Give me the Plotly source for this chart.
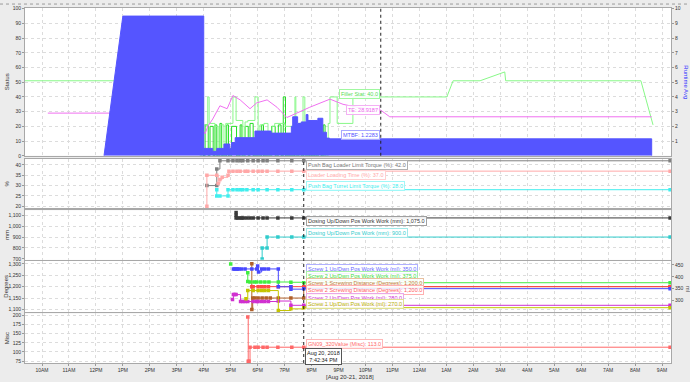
import plotly.graph_objects as go

# ---------------- data ----------------
# time strings: "<day> HH:MM" (day 20 or 21, August 2018)
x_range = ["20 09:22:10", "21 09:20"]
cursor_top = "20 22:34"
cursor_low = "20 19:42:34"

# --- panel 1 (Status / Runtime Avg) ---
mtbf_ramp_t = ["20 12:18", "20 13:00", "20 16:00", "20 16:00"]
mtbf_ramp_v = [0, 9.5, 9.5, 0]

mtbf_step_t = ["20 16:00", "20 16:20", "20 16:29", "20 16:45", "20 16:58", "20 17:02", "20 17:10",
               "20 17:54", "20 18:30", "20 19:15", "20 19:18", "20 19:29", "20 19:37", "20 19:48",
               "20 19:52", "20 20:14", "20 20:25", "20 20:33", "20 20:40", "21 08:37"]
mtbf_step_v = [0.5, 0.3, 0.5, 0.8, 0.5, 0.9, 1.23, 1.68, 1.54, 2.0, 2.65, 2.2, 2.3, 2.8,
               2.4, 2.55, 1.6, 1.2, 1.15, 0]

pulse_t = ["20 15:54", "20 15:59", "20 16:03", "20 16:10", "20 16:14", "20 16:21", "20 16:25",
           "20 16:29", "20 16:36", "20 16:40", "20 16:51", "20 16:55", "20 17:02", "20 17:13",
           "20 17:21", "20 17:25", "20 17:32", "20 17:39", "20 17:43", "20 17:50", "20 18:09",
           "20 18:13", "20 18:31", "20 18:39", "20 18:46", "20 18:52", "20 18:57", "20 19:02",
           "20 19:23", "20 19:27", "20 19:31", "20 19:37", "20 19:42", "20 19:47", "20 19:57",
           "20 20:00", "20 20:08", "20 20:11", "20 20:15", "20 20:21", "20 20:26", "20 20:30"]
pulse_v = [40, 0, 21, 0, 20, 0, 21, 0, 22, 0, 21, 0, 20, 0, 21, 0, 20, 0, 22, 0, 21,
           0, 20, 0, 21, 0, 40, 0, 21, 0, 22, 0, 21, 0, 20, 0, 21, 0, 22, 0, 21, 0]

filler_a_t = ["20 09:22", "20 15:14", "20 15:32", "20 15:34", "20 15:49"]
filler_a_v = [51, 51, 40, 21, 21]
filler_b_t = ["20 15:49", "20 15:52", "20 15:56", "20 16:09", "20 16:12", "20 16:25", "20 16:32",
              "20 16:36", "20 16:45", "20 16:49", "20 17:05", "20 17:12", "20 17:27", "20 17:32",
              "20 17:38", "20 17:54", "20 18:01", "20 18:05", "20 18:14", "20 18:23", "20 18:32",
              "20 18:38", "20 19:01", "20 19:23", "20 19:25", "20 19:34", "20 19:41", "20 19:45",
              "20 19:52", "20 20:08", "20 20:14", "20 20:23", "20 20:37", "20 20:41", "20 20:57",
              "20 21:32", "21 01:01"]
filler_b_v = [40, 0, 21, 40, 22, 20, 0, 21, 0, 22, 40, 24, 0, 23, 24, 40, 0, 21, 22, 0, 20,
              22, 20, 40, 0, 20, 40, 0, 22, 0, 21, 0, 22, 40, 22, 40, 40]
filler_c_t = ["21 01:01", "21 01:15", "21 02:15", "21 03:10", "21 03:12", "21 03:20", "21 08:13", "21 08:40"]
filler_c_v = [40, 51, 51, 57, 51, 51, 51, 21]

te_t = ["20 10:13", "20 15:47", "20 15:54", "20 15:58", "20 16:03", "20 16:09", "20 16:20",
        "20 16:36", "20 16:52", "20 17:05", "20 17:21", "20 17:43", "20 17:58", "20 18:21",
        "20 18:43", "20 19:05", "20 19:27", "20 19:56", "20 20:41", "20 21:10", "20 21:41",
        "20 22:34", "20 22:54", "21 08:37"]
te_v = [29, 29, 5, 17, 15, 20, 25, 34, 32, 41, 38, 32, 36, 38, 33, 26, 29, 33, 38.5, 35, 33,
        31, 26.5, 26.5]

# --- panel 2 (%) ---
plt_t = ["20 16:07", "20 16:29", "20 16:29", "20 16:36", "20 16:54", "20 17:05", "20 17:14",
         "20 17:21", "20 17:27", "20 17:38", "20 17:50", "20 18:01", "20 18:12", "20 18:21",
         "20 18:45", "20 19:16", "20 19:42:34", "21 09:18"]
plt_v = [30, 30, 38, 42, 42, 42, 42, 42, 42, 42, 42, 42, 42, 42, 42, 42, 42, 42]

llt_t = ["20 16:07", "20 16:07", "20 16:29", "20 16:32", "20 16:36", "20 16:41", "20 16:54",
         "20 16:56", "20 17:05", "20 17:14", "20 17:21", "20 17:32", "20 17:38", "20 17:50",
         "20 18:01", "20 18:10", "20 18:21", "20 18:45", "20 19:16", "20 19:42:34", "21 09:18"]
llt_v = [20, 35, 35, 31, 33, 34, 35, 37, 37, 37, 37, 37, 37, 37, 37, 37, 37, 37, 37, 37, 37]

ptt_t = ["20 16:29", "20 16:29", "20 16:36", "20 16:54", "20 16:54", "20 17:05", "20 17:14",
         "20 17:21", "20 17:27", "20 17:36", "20 17:50", "20 18:01", "20 18:21", "20 18:45",
         "20 19:16", "20 19:42:34", "21 09:18"]
ptt_v = [28, 25, 25, 25, 28, 28, 28, 28, 28, 28, 28, 28, 28, 28, 28, 28, 28]

# --- panel 3 (mm) ---
dww_t = ["20 17:12", "20 17:12", "20 17:12", "20 17:16", "20 17:21", "20 17:25", "20 17:29",
         "20 17:36", "20 17:43", "20 17:50", "20 18:01", "20 18:12", "20 18:21", "20 18:45",
         "20 19:16", "20 19:42:34", "21 09:18"]
dww_v = [1125, 1100, 1075, 1075, 1075, 1075, 1075, 1075, 1075, 1075, 1075, 1075, 1075, 1075,
         1075, 1075, 1075]

dw_t = ["20 18:10", "20 18:10", "20 18:21", "20 18:21", "20 18:45", "20 19:16", "20 19:42:34", "21 09:18"]
dw_v = [700, 800, 800, 900, 900, 900, 900, 900]

# --- panel 4 (Degrees / ml) ---
s1ww_t = ["20 17:06", "20 17:09", "20 17:12", "20 17:15", "20 17:18", "20 17:24", "20 17:32",
          "20 17:47", "20 17:58", "20 18:00", "20 18:02", "20 18:09", "20 18:16", "20 18:24",
          "20 18:46", "20 18:46", "20 19:14", "20 19:14", "20 19:42:34", "21 09:18"]
s1ww_v = [433, 433, 433, 433, 433, 433, 433, 433, 433, 445, 420, 433, 433, 433, 433, 358, 358,
          348, 350, 350]

s2ww_t = ["20 17:00", "20 17:01", "20 17:38", "20 17:38", "20 17:43", "20 17:52", "20 17:58",
          "20 18:07", "20 18:16", "20 18:25", "20 18:46", "20 19:14", "20 19:42:34", "21 09:18"]
s2ww_v = [454, None, 417, 380, 378, 378, 378, 378, 378, 378, 378, 377, 375, 375]

s1sd_t = ["20 17:47", "20 17:47", "20 17:49", "20 17:54", "20 18:01", "20 18:10", "20 18:19",
          "20 18:28", "20 18:46", "20 19:14", "20 19:42:34", "20 19:42:34", "21 09:18"]
s1sd_v = [1300, 1100, 1150, 1150, 1150, 1150, 1150, 1150, 1150, 1150, 1150, 1200, 1200]

s2sd_t = ["20 17:47", "20 17:50", "20 18:01", "20 18:09", "20 18:16", "20 18:24", "20 18:46",
          "20 19:14", "20 19:42:34", "21 09:18"]
s2sd_v = [1200, 1200, 1200, 1200, 1200, 1200, 1200, 1200, 1200, 1200]

s2w_t = ["20 17:04", "20 17:06", "20 17:09", "20 17:12", "20 17:22", "20 17:27", "20 17:32",
         "20 17:38", "20 17:50", "20 17:58", "20 18:01", "20 18:09", "20 18:16", "20 18:24",
         "20 18:46", "20 19:14", "20 19:42:34", "21 09:18"]
s2w_v = [304, 325, 325, 325, 296, 296, 296, 296, 296, 296, 296, 296, 296, 296, 298, 280, 280, 280]

s1w_t = ["20 17:34", "20 17:38", "20 17:50", "20 18:01", "20 18:09", "20 18:16", "20 18:24",
         "20 18:46", "20 19:14", "20 19:42:34", "21 09:18"]
s1w_v = [308, 342, 342, 342, 342, 342, 342, 258, 265, 270, 270]

# --- panel 5 (Misc) ---
gn_t = ["20 17:38", "20 17:39", "20 17:41", "20 17:43", "20 17:54", "20 18:01", "20 18:12",
        "20 18:21", "20 18:45", "20 19:16", "20 19:42:34", "21 09:18"]
gn_v = [195, 75, 75, 113, 113, 113, 113, 113, 113, 113, 113, 113]

# tick values
status_ticks = [0, 10, 20, 30, 40, 50, 60, 70, 80, 90, 100]
runtime_ticks = [1, 2, 3, 4, 5, 6, 7, 8, 9, 10]
pct_ticks = [20, 25, 30, 35, 40]
mm_ticks = [700, 800, 900, 1000, 1100]
deg_ticks = [1100, 1150, 1200, 1250, 1300]
ml_ticks = [300, 350, 400, 450]
misc_ticks = [75, 100, 125, 150, 175, 200]

# ---------------- layout helpers ----------------
W, H = 690, 382
ML, MR, MT, MB = 25, 19, 5, 19
PW, PH = W - ML - MR, H - MT - MB


def T(s):
    d, hm = s.split()
    return f"2018-08-{d} {hm}"


def py(y):
    return (H - MB - y) / PH


def px(x):
    return (x - ML) / PW


FONT = "Liberation Sans"
C_GRAY, C_PINK, C_CYAN = "#808080", "#ffa8a8", "#40eeee"
C_DARK, C_TEAL = "#3a3a3a", "#30cccc"
C_BLUE, C_GREEN, C_BROWN, C_RED = "#4848ff", "#40ee40", "#b0602a", "#ff4848"
C_MAG, C_OLIVE, C_MISC = "#d030d0", "#c4c400", "#ff6868"

fig = go.Figure()


def add(t, v, color, xa, ya, shape="hv", markers=True, fill=None, fillcolor=None, width=1):
    fig.add_trace(go.Scatter(
        x=[T(s) for s in t], y=v, xaxis=xa, yaxis=ya,
        mode="lines+markers" if markers else "lines",
        line=dict(color=color, width=width, shape=shape),
        marker=dict(symbol="square", size=3.5, color=color),
        fill=fill, fillcolor=fillcolor, hoverinfo="skip", showlegend=False))


# panel 1
add(mtbf_ramp_t, mtbf_ramp_v, "#5555ff", "x2", "y2", shape="linear", markers=False,
    fill="tozeroy", fillcolor="#5555ff")
add(mtbf_step_t, mtbf_step_v, "#5555ff", "x2", "y2", shape="hv", markers=False,
    fill="tozeroy", fillcolor="#5555ff")
add(pulse_t, pulse_v, "#22dd22", "x2", "y", shape="hv", markers=False)
add(filler_a_t, filler_a_v, "#88f888", "x2", "y", shape="linear", markers=False)
add(filler_b_t, filler_b_v, "#88f888", "x2", "y", shape="hv", markers=False)
add(filler_c_t, filler_c_v, "#88f888", "x2", "y", shape="linear", markers=False)
add(te_t, te_v, "#f070f0", "x2", "y", shape="linear", markers=False)

# panel 2
add(plt_t, plt_v, C_GRAY, "x3", "y3")
add(llt_t, llt_v, C_PINK, "x3", "y3")
add(ptt_t, ptt_v, C_CYAN, "x3", "y3")
# panel 3
add(dww_t, dww_v, C_DARK, "x4", "y4")
add(dw_t, dw_v, C_TEAL, "x4", "y4")
# panel 4
add(s1sd_t, s1sd_v, C_BROWN, "x5", "y5")
add(s2sd_t, s2sd_v, C_RED, "x5", "y5")
add(s1ww_t, s1ww_v, C_BLUE, "x5", "y6")
add(s2ww_t, s2ww_v, C_GREEN, "x5", "y6")
add(s2w_t, s2w_v, C_MAG, "x5", "y6")
add(s1w_t, s1w_v, C_OLIVE, "x5", "y6")
# panel 5
add(gn_t, gn_v, C_MISC, "x", "y7")

# axes
grid = dict(showgrid=True, gridcolor="#dcdcdc", griddash="dot", gridwidth=1,
            showline=True, mirror=True, linecolor="#a8a8a8", zeroline=False,
            tickfont=dict(size=5, color="#333", family=FONT), ticks="outside",
            ticklen=2, tickcolor="#999")
xcommon = dict(grid, type="date", dtick=3600000, tick0="2018-08-20 10:00",
               tickformat="%-I%p")

dom = {
    1: [py(154), 1.0],
    2: [py(207), py(157)],
    3: [py(259), py(209)],
    4: [py(312), py(260)],
    5: [0.0, py(313)],
}

layout = dict(
    width=W, height=H, margin=dict(l=ML, r=MR, t=MT, b=MB),
    paper_bgcolor="#ececec", plot_bgcolor="white",
    font=dict(family=FONT, size=6, color="#333"),
    xaxis=dict(xcommon, anchor="y7", range=[T(s) for s in x_range]),
    xaxis2=dict(xcommon, anchor="y", matches="x", showticklabels=False, ticks=""),
    xaxis3=dict(xcommon, anchor="y3", matches="x", showticklabels=False, ticks=""),
    xaxis4=dict(xcommon, anchor="y4", matches="x", showticklabels=False, ticks=""),
    xaxis5=dict(xcommon, anchor="y5", matches="x", showticklabels=False, ticks=""),
    yaxis=dict(grid, domain=dom[1], anchor="x2", range=[0, 100.5], tickvals=status_ticks),
    yaxis2=dict(grid, overlaying="y", anchor="x2", side="right", range=[0, 10.05],
                tickvals=runtime_ticks, showgrid=False, showline=False),
    yaxis3=dict(grid, domain=dom[2], anchor="x3", range=[19, 43], tickvals=pct_ticks),
    yaxis4=dict(grid, domain=dom[3], anchor="x4", range=[691, 1145], tickvals=mm_ticks,
                tickformat=","),
    yaxis5=dict(grid, domain=dom[4], anchor="x5", range=[1087, 1313], tickvals=deg_ticks,
                tickformat=","),
    yaxis6=dict(grid, overlaying="y5", anchor="x5", side="right", range=[250, 467],
                tickvals=ml_ticks, showgrid=False, showline=False),
    yaxis7=dict(grid, domain=dom[5], anchor="x", range=[70, 205], tickvals=misc_ticks),
)
fig.update_layout(**layout)

# cursors
fig.add_shape(type="line", xref="x", yref="paper", x0=T(cursor_top), x1=T(cursor_top),
              y0=dom[1][0], y1=dom[1][1], line=dict(color="#222", width=1, dash="dot"))
fig.add_shape(type="line", xref="x", yref="paper", x0=T(cursor_low), x1=T(cursor_low),
              y0=0, y1=dom[2][1], line=dict(color="#222", width=1, dash="dot"))
# top dotted border
fig.add_shape(type="line", xref="paper", yref="paper", x0=px(0), x1=px(W), y0=py(1), y1=py(1),
              line=dict(color="#9a9a9a", width=1, dash="dot"))

# axis titles
titles = [("Status", 7, 80, -90, "#333"), ("%", 7, 182, -90, "#333"),
          ("mm", 7, 234, -90, "#333"), ("Degrees", 6, 286, -90, "#333"),
          ("Misc", 7, 338, -90, "#333"), ("Runtime Avg", 686, 80, 90, "#3030ff"),
          ("ml", 688, 288, 90, "#555")]
for text, x, y, ang, col in titles:
    fig.add_annotation(text=text, xref="paper", yref="paper", x=px(x), y=py(y),
                       showarrow=False, textangle=ang, font=dict(size=6, color=col, family=FONT),
                       xanchor="center", yanchor="middle")

# value labels at cursors
top_labels = [("Filler Stat: 40.0", "#55dd55", "#a0f8a0", 92),
              ("TE: 28.9187", "#ee66ee", "#f4b0f4", 108),
              ("MTBF: 1.2283", "#5555ff", "#a8a8ff", 133)]
for text, col, bcol, y in top_labels:
    fig.add_annotation(text=text, xref="x", yref="paper", x=T(cursor_top), y=py(y),
                       xanchor="right", yanchor="middle", xshift=-1, showarrow=False,
                       font=dict(size=5.5, color=col, family=FONT), bgcolor="rgba(255,255,255,0.85)",
                       bordercolor=bcol, borderwidth=1, borderpad=1)

low_labels = [("Push Bag Loader Limit Torque (%): 42.0", "#777", "#b0b0b0", 163),
              ("Loader Loading Time (%): 37.0", C_PINK, "#ffd0d0", 173),
              ("Push Bag Turret Limit Torque (%): 28.0", C_CYAN, "#a0f8f8", 184),
              ("Dosing Up/Down Pos Work Work (mm): 1,075.0", "#333", "#a0a0a0", 220),
              ("Dosing Up/Down Pos Work (mm): 900.0", C_TEAL, "#a0e8e8", 232),
              ("Screw 1 Up/Dwn Pos Work Work (ml): 350.0", "#6868ff", "#b0b0ff", 268),
              ("Screw 2 Up/Dwn Pos Work Work (ml): 375.0", "#40dd40", "#a8f0a8", 275),
              ("Screw 1 Screwing Distance (Degrees): 1,200.0", "#c87838", "#e8c0a0", 282),
              ("Screw 2 Screwing Distance (Degrees): 1,200.0", "#ff6060", "#ffb0b0", 289),
              ("Screw 2 Up/Dwn Pos Work (ml): 280.0", C_MAG, "#e8a8e8", 297),
              ("Screw 1 Up/Dwn Pos Work (ml): 270.0", "#b8b800", "#e0e090", 304),
              ("GN09_320Value (Misc): 113.0", C_MISC, "#ffb8b8", 344)]
for text, col, bcol, y in low_labels:
    fig.add_annotation(text=text, xref="x", yref="paper", x=T(cursor_low), y=py(y),
                       xanchor="left", yanchor="middle", xshift=2, showarrow=False,
                       font=dict(size=5.5, color=col, family=FONT), bgcolor="rgba(255,255,255,0.85)",
                       bordercolor=bcol, borderwidth=1, borderpad=1)

# cursor time tooltip
fig.add_annotation(text="Aug 20, 2018<br>7:42:34 PM", xref="x", yref="paper", x=T(cursor_low),
                   y=py(348), xanchor="left", yanchor="top", xshift=1, showarrow=False,
                   align="center", font=dict(size=5.5, color="#222", family=FONT),
                   bgcolor="white", bordercolor="#555", borderwidth=1, borderpad=1)
# date range label
fig.add_annotation(text="[Aug 20-21, 2018]", xref="paper", yref="paper", x=px(350), y=py(377),
                   xanchor="center", yanchor="middle", showarrow=False,
                   font=dict(size=6, color="#333", family=FONT))

fig.write_html("out.html")
